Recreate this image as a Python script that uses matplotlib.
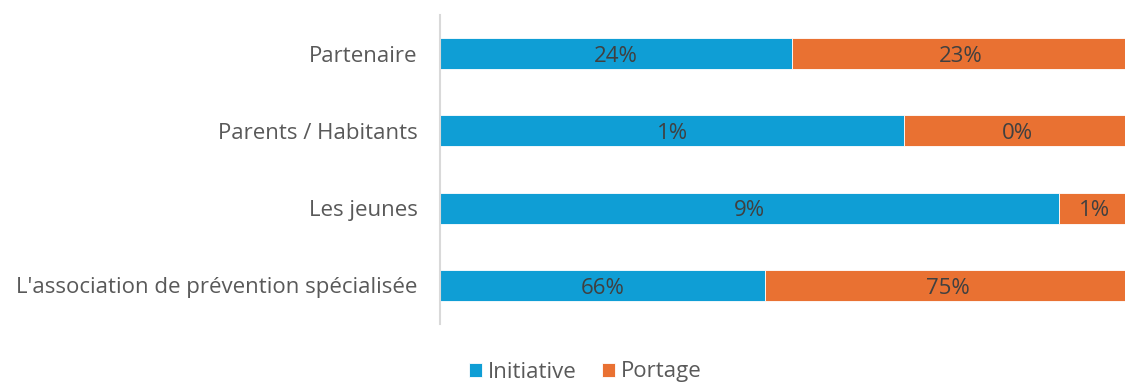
import matplotlib
matplotlib.use("Agg")
import matplotlib.pyplot as plt
import numpy as np

categories = ["L'association de prévention spécialisée", "Les jeunes", "Parents / Habitants", "Partenaire"]
initiative = [66.4, 9.0, 1.0, 24.0]
portage = [74.6, 1.04, 0.486, 23.1]
series_names = ["Initiative", "Portage"]
colors = ["#0F9ED5", "#E97132"]

plt.rcParams['font.family'] = ['Open Sans', 'DejaVu Sans']

fig = plt.figure(figsize=(11.25, 3.85), dpi=100)
ax = fig.add_axes([440/1125, 1-324/385, 690/1125, 309/385])

ini = np.array(initiative)
por = np.array(portage)
tot = ini + por
ini_s = ini / tot
por_s = por / tot
y = np.arange(len(categories))

b1 = ax.barh(y, ini_s, height=0.4, color=colors[0], edgecolor="white", linewidth=0.6, label=series_names[0])
b2 = ax.barh(y, por_s, left=ini_s, height=0.4, color=colors[1], edgecolor="white", linewidth=0.6, label=series_names[1])

for i in range(len(categories)):
    ax.annotate(f"{ini[i]:.0f}%", (ini_s[i]/2, y[i]), xytext=(0, -2), textcoords="offset points",
                ha="center", va="center", fontsize=16, color="#404040")
    ax.annotate(f"{por[i]:.0f}%", (ini_s[i] + por_s[i]/2, y[i]), xytext=(0, -2), textcoords="offset points",
                ha="center", va="center", fontsize=16, color="#404040")

ax.set_xlim(0, 1)
ax.set_ylim(-0.5, len(categories)-0.5)
ax.set_yticks(y)
ax.set_yticklabels(categories, fontsize=16, color="#595959")
ax.tick_params(axis="y", length=0, pad=16)
ax.set_xticks([])
for s in ["top", "right", "bottom"]:
    ax.spines[s].set_visible(False)
ax.spines["left"].set_color("#D9D9D9")
ax.spines["left"].set_linewidth(1.5)

leg = fig.legend(handles=[b1, b2], labels=series_names, loc="center", bbox_to_anchor=(585/1125, 1-372/385),
                 ncol=2, frameon=False, fontsize=16, handlelength=0.6, handleheight=0.6,
                 handletextpad=0.25, columnspacing=1.15, labelcolor="#595959",
                 borderpad=0.2)

fig.savefig("out.png", dpi=100)
